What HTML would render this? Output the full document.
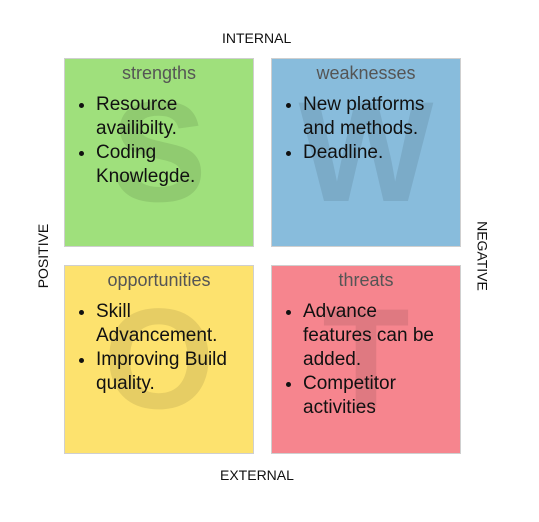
<!DOCTYPE html>
<html><head><meta charset="utf-8"><style>
body{margin:0;width:539px;height:522px;background:#fff;font-family:"Liberation Sans",Arial,sans-serif;position:relative;overflow:hidden}
.lbl{position:absolute;font-size:14px;color:#111}
.q{position:absolute;width:188px;height:187px;border:1px solid #cfcfcf;overflow:hidden}
.big{position:absolute;left:0;width:100%;text-align:center;font-weight:bold;font-size:143px;line-height:1;color:rgba(0,0,0,0.09);top:22px}
.t{position:absolute;top:4px;width:100%;text-align:center;font-size:18px;color:#555}
ul{position:absolute;top:34px;left:0;margin:0;padding-left:31px;width:146px;font-size:19px;line-height:24px;color:#111}
</style></head><body>
<div class="lbl" style="left:222px;top:30px">INTERNAL</div>
<div class="lbl" style="left:220px;top:467px">EXTERNAL</div>
<div class="lbl" style="left:8px;top:248px;transform:rotate(-90deg);transform-origin:center;width:70px;text-align:center">POSITIVE</div>
<div class="lbl" style="left:445px;top:248px;transform:rotate(90deg);transform-origin:center;width:75px;text-align:center">NEGATIVE</div>
<div id="root"></div>
<script>
const titles=["strengths","weaknesses","opportunities","threats"];
const letters=["S","W","O","T"];
const colors=["#9fe07c","#88bcdc","#fde26e","#f6858e"];
const items=[["Resource availibilty.","Coding Knowlegde."],["New platforms and methods.","Deadline."],["Skill Advancement.","Improving Build quality."],["Advance features can be added.","Competitor activities"]];
const pos=[[64,58],[271,58],[64,265],[271,265]];
const root=document.getElementById('root');
titles.forEach((t,i)=>{
 const q=document.createElement('div');q.className='q';
 
 
 q.style.left=pos[i][0]+'px';q.style.top=pos[i][1]+'px';q.style.background=colors[i];
 const b=document.createElement('div');b.className='big';b.textContent=letters[i];
 
 
 q.appendChild(b);
 const h=document.createElement('div');h.className='t';h.textContent=t;
 
 
 q.appendChild(h);
 const ul=document.createElement('ul');
 
 
 items[i].forEach(s=>{const li=document.createElement('li');li.textContent=s;
  
  
  ul.appendChild(li);});
 q.appendChild(ul);
 root.appendChild(q);
});
</script>
</body></html>
